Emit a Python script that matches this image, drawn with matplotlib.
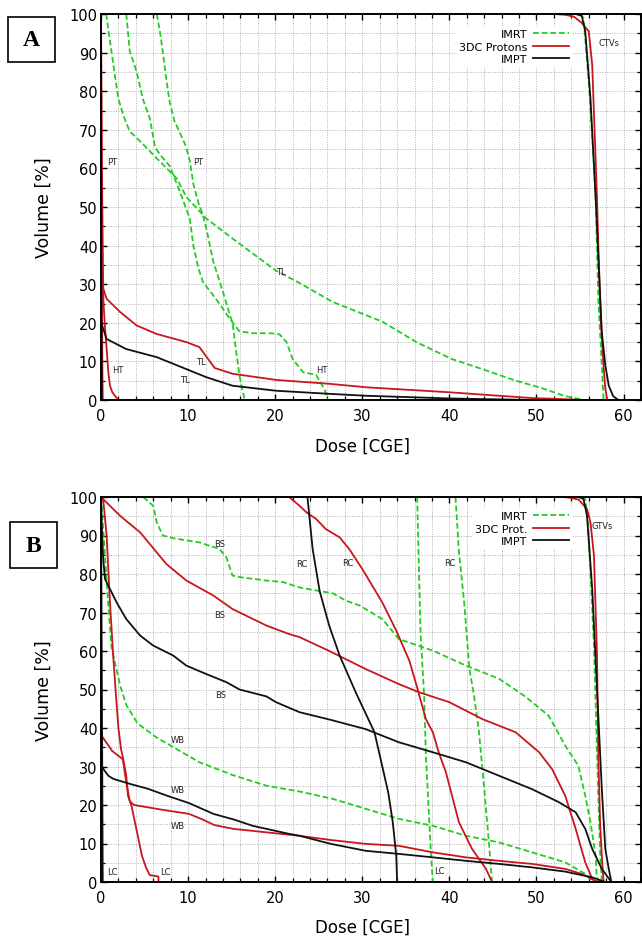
import matplotlib
matplotlib.use("Agg")
import matplotlib.pyplot as plt
from matplotlib.patches import Rectangle
from matplotlib.ticker import MultipleLocator

plt.rcParams['font.family'] = ['DejaVu Sans']

GREEN = '#22cc22'
RED = '#c8161d'
BLACK = '#111111'

# ---------------- Panel A data ----------------
A_PT_IMRT_dose = [6.4, 6.8, 7.1, 7.5, 7.9, 8.4, 9.1, 9.7, 10.2, 10.6, 11.2, 11.7, 12.1, 12.9, 14.0, 14.8, 15.1, 15.5, 15.9, 16.2, 16.5]
A_PT_IMRT_vol = [100, 95, 90, 83, 77, 72.5, 69, 66, 62, 56, 51, 47.9, 44.4, 35.8, 28, 22, 20, 13, 6.3, 3, 0]

A_HT_IMRT_dose = [2.9, 3.3, 4.1, 4.8, 5.6, 6.2, 6.8, 7.9, 9.05, 10.2, 10.6, 11.2, 11.7, 13.2, 14.8, 15.9, 17.4, 19.5, 20.5, 21.3, 22.0, 23.2, 24.7, 25.7, 26.0]
A_HT_IMRT_vol = [100, 90.4, 85, 78, 73, 65.5, 63.5, 60.6, 54, 47, 40, 34, 30.6, 26.2, 21, 17.8, 17.3, 17.3, 17, 15, 10.6, 7.2, 6.5, 2.6, 0]

A_TL_IMRT_dose = [0.6, 0.9, 1.2, 1.6, 2.0, 2.6, 3.3, 4.5, 6.4, 8.7, 9.8, 12.1, 15.3, 20.1, 22.8, 26.6, 32.3, 36.2, 40.3, 43.8, 47.6, 50.3, 53.3, 54.9, 55.5]
A_TL_IMRT_vol = [100, 95, 90.4, 84, 78, 73.5, 69.6, 67, 62.6, 57.4, 52.6, 47, 41.5, 33.5, 30.3, 25.4, 20.3, 15, 10.6, 8, 5, 3.3, 1, 0.3, 0]

A_TL_3DC_dose = [0, 0, 0.65, 2.2, 4.1, 6.4, 9.8, 11.3, 12.3, 13.05, 15.1, 20.1, 26.2, 30.4, 40, 49.5, 53.3, 55]
A_TL_3DC_vol = [100, 30.6, 26.2, 22.8, 19.3, 17.1, 15, 13.7, 10.6, 8.3, 6.8, 5.2, 4.2, 3.3, 2, 0.5, 0.2, 0]

A_TL_IMPT_dose = [0, 0, 0.65, 2.9, 6.4, 9.8, 12.1, 15.1, 20.1, 26.2, 30.4, 40, 49.5]
A_TL_IMPT_vol = [100, 20.2, 15.8, 13.2, 11.1, 8, 5.9, 3.7, 2.4, 1.6, 1.1, 0.4, 0]

A_HT_3DC_dose = [0, 0.1, 0.27, 0.45, 0.65, 0.85, 1.03, 1.3, 1.6, 2.0]
A_HT_3DC_vol = [100, 60, 26, 19, 13.2, 7, 3.7, 2, 1.1, 0]

A_PT_3DC_dose = [0, 0.05, 0.1, 0.15, 0.2]
A_PT_3DC_vol = [100, 65, 30, 10, 0]

A_PT_IMPT_dose = [0, 0.05, 0.1]
A_PT_IMPT_vol = [100, 20, 0]

A_CTV_3DC_dose = [52.0, 53.3, 54.3, 55.2, 56.0, 56.4, 56.95, 57.1, 57.4, 57.7, 57.9, 58.1]
A_CTV_3DC_vol = [100, 99.8, 99.3, 97.7, 95.5, 86.8, 52.2, 40, 20, 8.9, 3, 0.3]
A_CTV_IMPT_dose = [54.5, 55.2, 55.6, 56.2, 56.8, 57.2, 57.5, 57.9, 58.3, 58.8, 59.4]
A_CTV_IMPT_vol = [100, 99.5, 95.5, 78, 52, 32, 17.6, 9, 3.7, 1, 0]
A_CTV_IMRT_dose = [55.0, 55.4, 56.0, 56.6, 56.8, 57.1, 57.5, 57.7]
A_CTV_IMRT_vol = [100, 99, 82.5, 60.8, 52, 26, 9, 0]

A_labels = ['PT', 'PT', 'TL', 'HT', 'TL', 'TL', 'HT', 'CTVs']
A_label_x = [1.26, 11.2, 20.7, 1.95, 11.45, 9.6, 25.3, 58.3]
A_label_y = [61.8, 61.8, 33.2, 7.8, 10.1, 5.2, 7.8, 92.7]

# ---------------- Panel B data ----------------
B_BS_IMRT_dose = [4.85, 6.0, 6.4, 7.1, 8.3, 11.3, 13.6, 14.4, 15.1, 15.9, 19, 20.9, 22.8, 24.5, 26.6, 28.1, 29.7, 32.3, 34.2, 38.1, 41.9, 45.7, 48.7, 51.4, 53.3, 54.8, 55.6, 56.2, 56.8, 56.9, 57.2]
B_BS_IMRT_vol = [100, 97.7, 93.4, 90, 89.3, 88.2, 86.5, 84.3, 79.6, 79.2, 78.3, 77.9, 76.5, 75.8, 75.0, 73.1, 71.8, 68.3, 63.1, 60.1, 56.2, 52.8, 48.2, 43.2, 35.4, 30.2, 22.4, 15.5, 6.8, 1.6, 0]

B_BS_3DC_dose = [0, 2.2, 4.5, 7.5, 9.8, 12.9, 15.1, 19, 21.6, 22.8, 26.4, 30.4, 34.2, 36.5, 40, 43.8, 47.6, 50.3, 51.8, 53.3, 54.5, 55.6, 56.4, 56.8]
B_BS_3DC_vol = [100, 95.1, 90.8, 82.6, 78.3, 74.4, 70.9, 66.6, 64.4, 63.6, 59.8, 55.3, 51.4, 49.3, 46.7, 42.3, 38.9, 33.7, 29.3, 22.4, 13.8, 5.1, 0.8, 0]

B_BS_IMPT_dose = [0, 0.1, 0.25, 0.46, 1.03, 1.8, 2.9, 4.5, 6, 8.3, 9.8, 12.1, 14.4, 15.9, 19, 20.1, 22.8, 26.4, 30.4, 34.2, 38.1, 41.9, 45.7, 49.5, 52.6, 54.5, 55.6, 56.4, 57.5, 58.5]
B_BS_IMPT_vol = [100, 92, 84, 78.7, 76.1, 72.6, 68.3, 64, 61.4, 58.8, 56.2, 54, 51.9, 50, 48.2, 46.7, 44.1, 42.1, 39.7, 36.3, 33.7, 31.1, 27.6, 24.1, 20.7, 18.1, 13.8, 8.6, 3.4, 0.3]

B_RC_3DC_dose = [21.6, 22.8, 23.6, 24.7, 25.8, 27.4, 28.5, 30, 32.3, 33.9, 35.4, 36.3, 37.3, 38.1, 38.8, 39.6, 41.1, 42.6, 44.2, 44.9]
B_RC_3DC_vol = [100, 97.7, 96, 94.3, 91.7, 89.5, 86.5, 81.3, 72.6, 65.3, 57.5, 50.5, 42.3, 38.9, 33.5, 28.5, 15.5, 8.6, 3.4, 0]

B_RC_IMPT_dose = [23.7, 24.3, 25.1, 26.2, 27.4, 29.3, 31.4, 32.3, 33.0, 33.5, 33.9, 34.0]
B_RC_IMPT_vol = [100, 86.5, 75.6, 66.6, 58.8, 49, 38.9, 30, 23, 15.5, 6.8, 0]

B_LC_IMRT_dose = [36.3, 36.5, 36.7, 37.1, 37.3, 37.7, 37.9, 38.1]
B_LC_IMRT_vol = [100, 81.3, 64, 48.5, 32.8, 15.5, 6.8, 0]

B_RC_IMRT_dose = [40.7, 41.1, 41.7, 42.3, 42.8, 43.4, 44.0, 44.5, 44.9]
B_RC_IMRT_vol = [100, 85.6, 72.6, 55.3, 48.8, 38.9, 24.2, 11.2, 0]

B_WB_IMRT_dose = [0, 0.3, 0.6, 0.9, 1.2, 1.6, 2.2, 2.9, 4.2, 6.4, 8.7, 11.3, 15.1, 19, 22.8, 26.6, 30.4, 34.2, 38.1, 41.9, 45.7, 49.5, 53.3, 55.6, 56.4, 57.0]
B_WB_IMRT_vol = [100, 90, 80, 70, 61, 57, 51, 46, 41.2, 37.5, 34.5, 31.1, 27.8, 25, 23.5, 21.6, 19, 16.4, 14.6, 12, 10.3, 7.7, 5.1, 2.1, 0.3, 0]

B_LC_3DC_dose = [0, 0.27, 0.65, 1.03, 1.4, 1.7, 2.0, 2.3, 2.55, 2.9, 3.1, 3.5, 3.9, 4.3, 4.7, 5.2, 5.6, 6.6, 6.6]
B_LC_3DC_vol = [100, 99, 89.9, 72.6, 58.8, 49, 40, 34.5, 32, 27.6, 22.4, 19.8, 15.5, 11.2, 6.8, 3.6, 1.8, 1.4, 0]

B_WB_3DC_dose = [0, 0, 1.3, 2.5, 2.9, 3.3, 3.8, 7.2, 10.1, 11.5, 13.0, 15.2, 19, 22.8, 26.4, 30.4, 34.2, 38.1, 41.9, 45.7, 49.5, 53.3, 55.2, 56.8, 57.2]
B_WB_3DC_vol = [100, 38.2, 34, 31.9, 25.9, 21, 20, 18.7, 17.7, 16.4, 14.8, 13.8, 12.9, 12, 10.9, 9.9, 9.4, 7.7, 6.4, 5.5, 4.7, 3.4, 2.1, 0.3, 0]

B_WB_IMPT_dose = [0, 0, 0.84, 1.4, 3.3, 5.4, 7.6, 10.1, 12.9, 15.3, 17.4, 21.6, 22.8, 26.4, 30.4, 34.2, 38.1, 41.9, 45.7, 49.5, 53.3, 56.4, 57.9]
B_WB_IMPT_vol = [100, 30.2, 27.6, 26.8, 25.5, 24.2, 22.4, 20.5, 17.7, 16.2, 14.6, 12.5, 12, 9.9, 8.1, 7.3, 6.4, 5.5, 4.7, 3.8, 2.7, 1.2, 0]

B_LC_IMPT_dose = [0, 0.1, 0.2]
B_LC_IMPT_vol = [100, 50, 0]

B_GTV_3DC_dose = [53.0, 53.9, 54.85, 55.8, 56.2, 56.6, 56.95, 57.1, 57.3, 57.5, 57.7]
B_GTV_3DC_vol = [100, 99.8, 99.3, 96.9, 93.4, 84.8, 58.8, 32.8, 15.5, 6.8, 0]
B_GTV_IMPT_dose = [54.8, 55.4, 55.8, 56.4, 56.95, 57.5, 57.9, 58.3, 58.6]
B_GTV_IMPT_vol = [100, 99.5, 95.1, 76.1, 50.1, 24.2, 8.6, 3.4, 0]
B_GTV_IMRT_dose = [55.2, 55.6, 55.9, 56.2, 56.6, 57.0, 57.3, 57.5]
B_GTV_IMRT_vol = [100, 99.5, 93.4, 80.4, 61.4, 30, 8, 0]

B_labels = ['BS', 'BS', 'BS', 'RC', 'RC', 'RC', 'GTVs', 'WB', 'WB', 'WB', 'LC', 'LC', 'LC']
B_label_x = [13.6, 13.6, 13.7, 23.0, 28.3, 40.1, 57.6, 8.8, 8.8, 8.8, 1.26, 7.4, 38.8]
B_label_y = [87.8, 69.4, 48.8, 82.6, 82.9, 82.9, 92.7, 36.9, 23.9, 14.8, 2.6, 2.6, 2.9]

x_ticks = [0, 10, 20, 30, 40, 50, 60]
y_ticks = [0, 10, 20, 30, 40, 50, 60, 70, 80, 90, 100]

W, H = 642, 937
fig = plt.figure(figsize=(W / 100, H / 100), dpi=100)

def px_box(l, t, r, b):
    return [l / W, 1 - b / H, (r - l) / W, (b - t) / H]

axA = fig.add_axes(px_box(101, 15, 641, 401))
axB = fig.add_axes(px_box(101, 498, 641, 883))

green_kw = dict(color=GREEN, lw=1.3, dashes=(3.2, 1.6))
red_kw = dict(color=RED, lw=1.3)
black_kw = dict(color=BLACK, lw=1.3)

def style(ax):
    ax.set_xlim(0, 62)
    ax.set_ylim(0, 100)
    ax.set_xticks(x_ticks)
    ax.set_yticks(y_ticks)
    ax.xaxis.set_minor_locator(MultipleLocator(2))
    ax.yaxis.set_minor_locator(MultipleLocator(5))
    ax.grid(True, which='both', color='#b0b0b0', linestyle=(0, (1, 1.5)), lw=0.7)
    ax.set_axisbelow(True)
    ax.tick_params(which='both', direction='in', top=True, right=True)
    ax.tick_params(which='major', length=4, width=1, labelsize=10.5)
    ax.tick_params(which='minor', length=3, width=0.9)
    ax.tick_params(axis='x', which='major', pad=6)
    ax.tick_params(axis='y', which='major', pad=2.5)
    for s in ax.spines.values():
        s.set_linewidth(1.4)
    ax.set_xlabel('Dose [CGE]', fontsize=12)
    ax.set_ylabel('Volume [%]', fontsize=12.5)
    ax.xaxis.set_label_coords(0.485, -0.094)
    ax.yaxis.set_label_coords(-0.089, 0.5)

# Panel A
style(axA)
lA1, = axA.plot(A_TL_IMRT_dose, A_TL_IMRT_vol, label='IMRT', **green_kw)
axA.plot(A_PT_IMRT_dose, A_PT_IMRT_vol, **green_kw)
axA.plot(A_HT_IMRT_dose, A_HT_IMRT_vol, **green_kw)
axA.plot(A_CTV_IMRT_dose, A_CTV_IMRT_vol, **green_kw)
lA2, = axA.plot(A_TL_3DC_dose, A_TL_3DC_vol, label='3DC Protons', **red_kw)
axA.plot(A_HT_3DC_dose, A_HT_3DC_vol, **red_kw)
axA.plot(A_PT_3DC_dose, A_PT_3DC_vol, **red_kw)
axA.plot(A_CTV_3DC_dose, A_CTV_3DC_vol, **red_kw)
lA3, = axA.plot(A_TL_IMPT_dose, A_TL_IMPT_vol, label='IMPT', **black_kw)
axA.plot(A_PT_IMPT_dose, A_PT_IMPT_vol, **black_kw)
axA.plot(A_CTV_IMPT_dose, A_CTV_IMPT_vol, **black_kw)
for t, x, y in zip(A_labels, A_label_x, A_label_y):
    axA.text(x, y, t, fontsize=6, ha='center', va='center', color='#222222')

# Panel B
style(axB)
lB1, = axB.plot(B_BS_IMRT_dose, B_BS_IMRT_vol, label='IMRT', **green_kw)
axB.plot(B_LC_IMRT_dose, B_LC_IMRT_vol, **green_kw)
axB.plot(B_RC_IMRT_dose, B_RC_IMRT_vol, **green_kw)
axB.plot(B_WB_IMRT_dose, B_WB_IMRT_vol, **green_kw)
axB.plot(B_GTV_IMRT_dose, B_GTV_IMRT_vol, **green_kw)
lB2, = axB.plot(B_BS_3DC_dose, B_BS_3DC_vol, label='3DC Prot.', **red_kw)
axB.plot(B_RC_3DC_dose, B_RC_3DC_vol, **red_kw)
axB.plot(B_LC_3DC_dose, B_LC_3DC_vol, **red_kw)
axB.plot(B_WB_3DC_dose, B_WB_3DC_vol, **red_kw)
axB.plot(B_GTV_3DC_dose, B_GTV_3DC_vol, **red_kw)
lB3, = axB.plot(B_BS_IMPT_dose, B_BS_IMPT_vol, label='IMPT', **black_kw)
axB.plot(B_RC_IMPT_dose, B_RC_IMPT_vol, **black_kw)
axB.plot(B_WB_IMPT_dose, B_WB_IMPT_vol, **black_kw)
axB.plot(B_LC_IMPT_dose, B_LC_IMPT_vol, **black_kw)
axB.plot(B_GTV_IMPT_dose, B_GTV_IMPT_vol, **black_kw)
for t, x, y in zip(B_labels, B_label_x, B_label_y):
    axB.text(x, y, t, fontsize=6, ha='center', va='center', color='#222222')

def legend(ax, handles, top_px, ax_top_px):
    leg = ax.legend(handles=handles, loc='upper right', markerfirst=False,
                    bbox_to_anchor=((572 - 101) / 540, 1 - (top_px - ax_top_px) / 386),
                    fontsize=8, frameon=True, fancybox=False, handlelength=3.2,
                    handletextpad=0.5, labelspacing=0.2, borderpad=0.3, borderaxespad=0)
    leg.get_frame().set_facecolor('white')
    leg.get_frame().set_edgecolor('none')
    leg.get_frame().set_alpha(1)
    for t in leg.get_texts():
        t.set_ha('right')
    return leg

legend(axA, [lA1, lA2, lA3], 27, 15)
legend(axB, [lB1, lB2, lB3], 509, 498)

# Panel letters
for (l, t, r, b), letter in [((8, 18, 55, 63), 'A'), ((10, 523, 57, 569), 'B')]:
    fig.add_artist(Rectangle((l / W, 1 - b / H), (r - l) / W, (b - t) / H,
                             transform=fig.transFigure, fill=False, lw=1.2, ec='black'))
    fig.text((l + r) / 2 / W, 1 - (t + b) / 2 / H, letter, ha='center', va='center',
             fontsize=17, fontweight='bold', family='Liberation Serif')

fig.savefig('out.png', dpi=100)
